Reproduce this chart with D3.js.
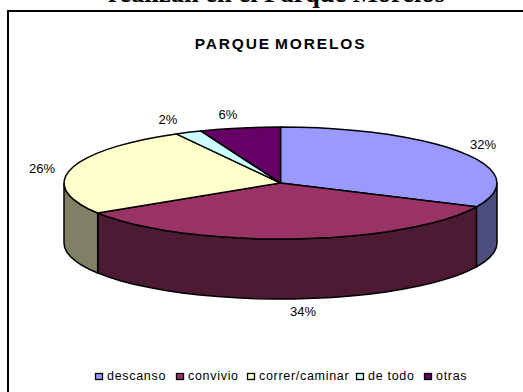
<!DOCTYPE html>
<html>
<head>
<meta charset="utf-8">
<script src="https://cdn.jsdelivr.net/npm/d3@7"></script>
<style>
body { margin: 0; background: #fff; }
text { font-family: "Liberation Sans", Arial, sans-serif; fill: #000; }
</style>
</head>
<body>
<div id="chart"></div>
<script>
const width = 523;
const height = 392;

const categories = ["descanso", "convivio", "correr/caminar", "de todo", "otras"];
const values = [32, 34, 26, 2, 6];
const topColors = ["#9999ff", "#993366", "#ffffcc", "#ccffff", "#660066"];
const sideColors = ["#4d4d80", "#4d1a33", "#808066", "#668080", "#330033"];
const labelPos = [[483, 149], [303, 316], [42, 173], [168, 124], [228, 119]];
const legendX = [95, 176, 247, 356, 424];

const cx = 280.5;
const cy = 183;
const rx = 216.5;
const ry = 56;
const depth = 60;

const svg = d3.select("#chart").append("svg")
    .attr("width", width)
    .attr("height", height)
    .style("display", "block");

svg.append("text")
    .attr("x", 276.5)
    .attr("y", 2)
    .attr("text-anchor", "middle")
    .style("font-family", "'Liberation Serif', serif")
    .style("font-weight", "bold")
    .style("font-size", "26.5px")
    .text("realizan en el Parque Morelos");

svg.append("rect")
    .attr("x", 8)
    .attr("y", 11)
    .attr("width", 530)
    .attr("height", 400)
    .attr("fill", "#fff")
    .attr("stroke", "#000")
    .attr("stroke-width", 2);

svg.append("text")
    .attr("x", 280.5)
    .attr("y", 49)
    .attr("text-anchor", "middle")
    .style("font-weight", "bold")
    .style("font-size", "15.5px")
    .style("letter-spacing", "1.85px")
    .style("word-spacing", "-2px")
    .text("PARQUE MORELOS");

const pie = d3.pie().sort(null).value(d => d);
const arcs = pie(values);
const color = d3.scaleOrdinal(categories, topColors);
const side = d3.scaleOrdinal(categories, sideColors);

// tilted pie: angle 0 is at the top, clockwise like d3.pie
const px = a => cx + rx * Math.sin(a);
const py = a => cy - ry * Math.cos(a);
const line = d3.line();

function rimPoints(a0, a1, dy) {
    const n = Math.max(2, Math.ceil((a1 - a0) / 0.09));
    return d3.range(n + 1).map(i => {
        const a = a0 + (a1 - a0) * i / n;
        return [px(a), py(a) + dy];
    });
}

// the wall only shows on the front half (90deg to 270deg)
const wall = svg.append("g");
const drawWall = (a0, a1, key) => {
    const pts = rimPoints(a0, a1, 0).concat(rimPoints(a0, a1, depth).reverse());
    wall.append("path")
        .attr("d", line(pts) + "Z")
        .attr("fill", side(key))
        .attr("stroke", "#000")
        .attr("stroke-width", 1.5);
};
arcs.forEach((d, i) => {
    const a0 = Math.max(d.startAngle, Math.PI / 2);
    const a1 = Math.min(d.endAngle, Math.PI * 1.5);
    if (a1 > a0) drawWall(a0, a1, categories[i]);
});

svg.append("g").selectAll("path")
    .data(arcs)
    .join("path")
    .attr("d", d => line([[cx, cy]].concat(rimPoints(d.startAngle, d.endAngle, 0))) + "Z")
    .attr("fill", (d, i) => color(categories[i]))
    .attr("stroke", "#000")
    .attr("stroke-width", 1.5)
    .attr("stroke-linejoin", "round");

svg.append("g").selectAll("text")
    .data(arcs)
    .join("text")
    .attr("x", (d, i) => labelPos[i][0])
    .attr("y", (d, i) => labelPos[i][1])
    .attr("text-anchor", "middle")
    .style("font-size", "13px")
    .text(d => d.data + "%");

const legend = svg.append("g").selectAll("g")
    .data(categories)
    .join("g")
    .attr("transform", (d, i) => `translate(${legendX[i]},380)`);

legend.append("rect")
    .attr("x", 0.5)
    .attr("y", -6.5)
    .attr("width", 7)
    .attr("height", 6)
    .attr("fill", d => color(d))
    .attr("stroke", "#000")
    .attr("stroke-width", 1.3);

legend.append("text")
    .attr("x", 12)
    .attr("y", 0)
    .style("font-size", "12.5px")
    .style("letter-spacing", "0.7px")
    .text(d => d);
</script>
</body>
</html>
